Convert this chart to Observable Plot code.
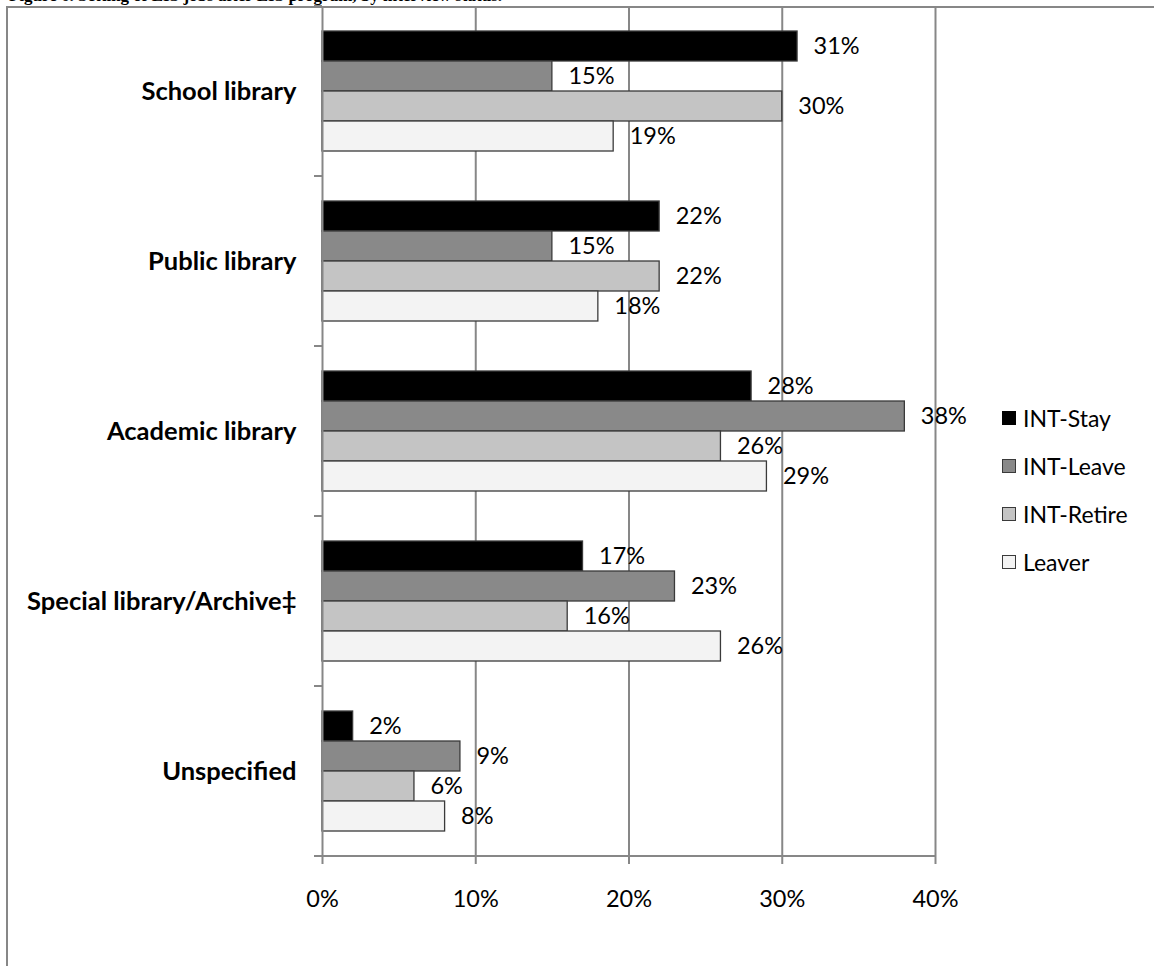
<!DOCTYPE html>
<html>
<head>
<meta charset="utf-8">
<script src="https://cdn.jsdelivr.net/npm/d3@7"></script>
<script src="https://cdn.jsdelivr.net/npm/@observablehq/plot@0.6"></script>
<style>
html, body { margin: 0; padding: 0; background: #fff; }
#wrap { position: relative; width: 1154px; height: 966px; overflow: hidden; font-family: Lato, sans-serif; }
#title { position: absolute; left: 9px; top: -13px; font: bold 17px "Liberation Serif", serif; line-height: 17px; white-space: nowrap; color: #000; }
#chart { position: absolute; left: 0; top: 0; }
#frame { position: absolute; left: 6px; top: 6px; width: 2000px; height: 2000px; border-left: 2px solid #878787; border-top: 2px solid #878787; pointer-events: none; }
#legend { position: absolute; left: 1002px; top: 394px; font-size: 23px; color: #000; }
#legend .item { display: flex; align-items: center; height: 48px; }
#legend .sw { width: 14px; height: 14px; box-sizing: border-box; border: 1.3px solid #3a3a3a; margin-right: 7px; }
</style>
</head>
<body>
<div id="wrap">
  <div id="chart"></div>
  <div id="title">Figure 6. Setting of LIS jobs after LIS program, by interview status.</div>
  <div id="frame"></div>
  <div id="legend"></div>
</div>
<script>
const categories = ["School library", "Public library", "Academic library", "Special library/Archive‡", "Unspecified"];
const series = ["INT-Stay", "INT-Leave", "INT-Retire", "Leaver"];
const stayValues = [31, 22, 28, 17, 2];
const leaveValues = [15, 15, 38, 23, 9];
const retireValues = [30, 22, 26, 16, 6];
const leaverValues = [19, 18, 29, 26, 8];
const xTicks = [0, 10, 20, 30, 40];
const colors = ["#000000", "#898989", "#c4c4c4", "#f3f3f3"];

const valuesBySeries = [stayValues, leaveValues, retireValues, leaverValues];
const data = categories.flatMap((c, i) => series.map((s, j) => ({category: c, series: s, value: valuesBySeries[j][i]})));

const gridColor = "#878787";

const chart = Plot.plot({
  width: 1154,
  height: 930,
  marginLeft: 322,
  marginRight: 219,
  marginTop: 6,
  marginBottom: 74,
  style: {background: "transparent", fontFamily: "Lato, sans-serif", fontSize: "23px", color: "#000"},
  x: {domain: [0, 40]},
  y: {domain: series, paddingInner: 0, paddingOuter: 0.742, axis: null},
  fy: {domain: categories, padding: 0},
  color: {domain: series, range: colors},
  marks: [
    Plot.gridX(xTicks.slice(1), {stroke: gridColor, strokeOpacity: 1, strokeWidth: 2}),
    Plot.barX(data, {fy: "category", y: "series", x: "value", fill: "series", stroke: "#3a3a3a", strokeWidth: 1.3}),
    Plot.text(data, {fy: "category", y: "series", x: "value", text: d => d.value + "%", textAnchor: "start", dx: 16, fontSize: 23.5, fill: "#000"}),
    Plot.ruleX([0], {stroke: gridColor, strokeWidth: 2}),
    Plot.axisX(xTicks, {anchor: "bottom", tickSize: 8, tickPadding: 26, tickFormat: d => d + "%", stroke: gridColor, strokeWidth: 2, fontSize: 23.5, label: null}),
    Plot.axisFy({anchor: "left", tickSize: 0, tickPadding: 26, fontWeight: "bold", fontSize: 25.5, label: null})
  ]
});
document.getElementById("chart").appendChild(chart);

// category boundary tick marks and bottom axis line, from the library's scales
const fyScale = chart.scale("fy");
const xScale = chart.scale("x");
const bounds = categories.map(c => fyScale.apply(c));
bounds.push(bounds[bounds.length - 1] + fyScale.bandwidth);
const x0 = xScale.apply(0), x1 = xScale.apply(40);
const g = d3.select(chart).append("g").attr("stroke", gridColor).attr("stroke-width", 2);
bounds.forEach(y => g.append("line").attr("x1", x0 - 8).attr("x2", x0).attr("y1", y).attr("y2", y));
g.append("line").attr("x1", x0 - 1).attr("x2", x1 + 1).attr("y1", bounds[bounds.length - 1]).attr("y2", bounds[bounds.length - 1]);

// legend
const legend = d3.select("#legend");
series.forEach((s, i) => {
  const item = legend.append("div").attr("class", "item");
  item.append("div").attr("class", "sw").style("background", colors[i]).style("border-color", i === 0 ? "#000" : "#3a3a3a");
  item.append("span").text(s);
});
</script>
</body>
</html>
